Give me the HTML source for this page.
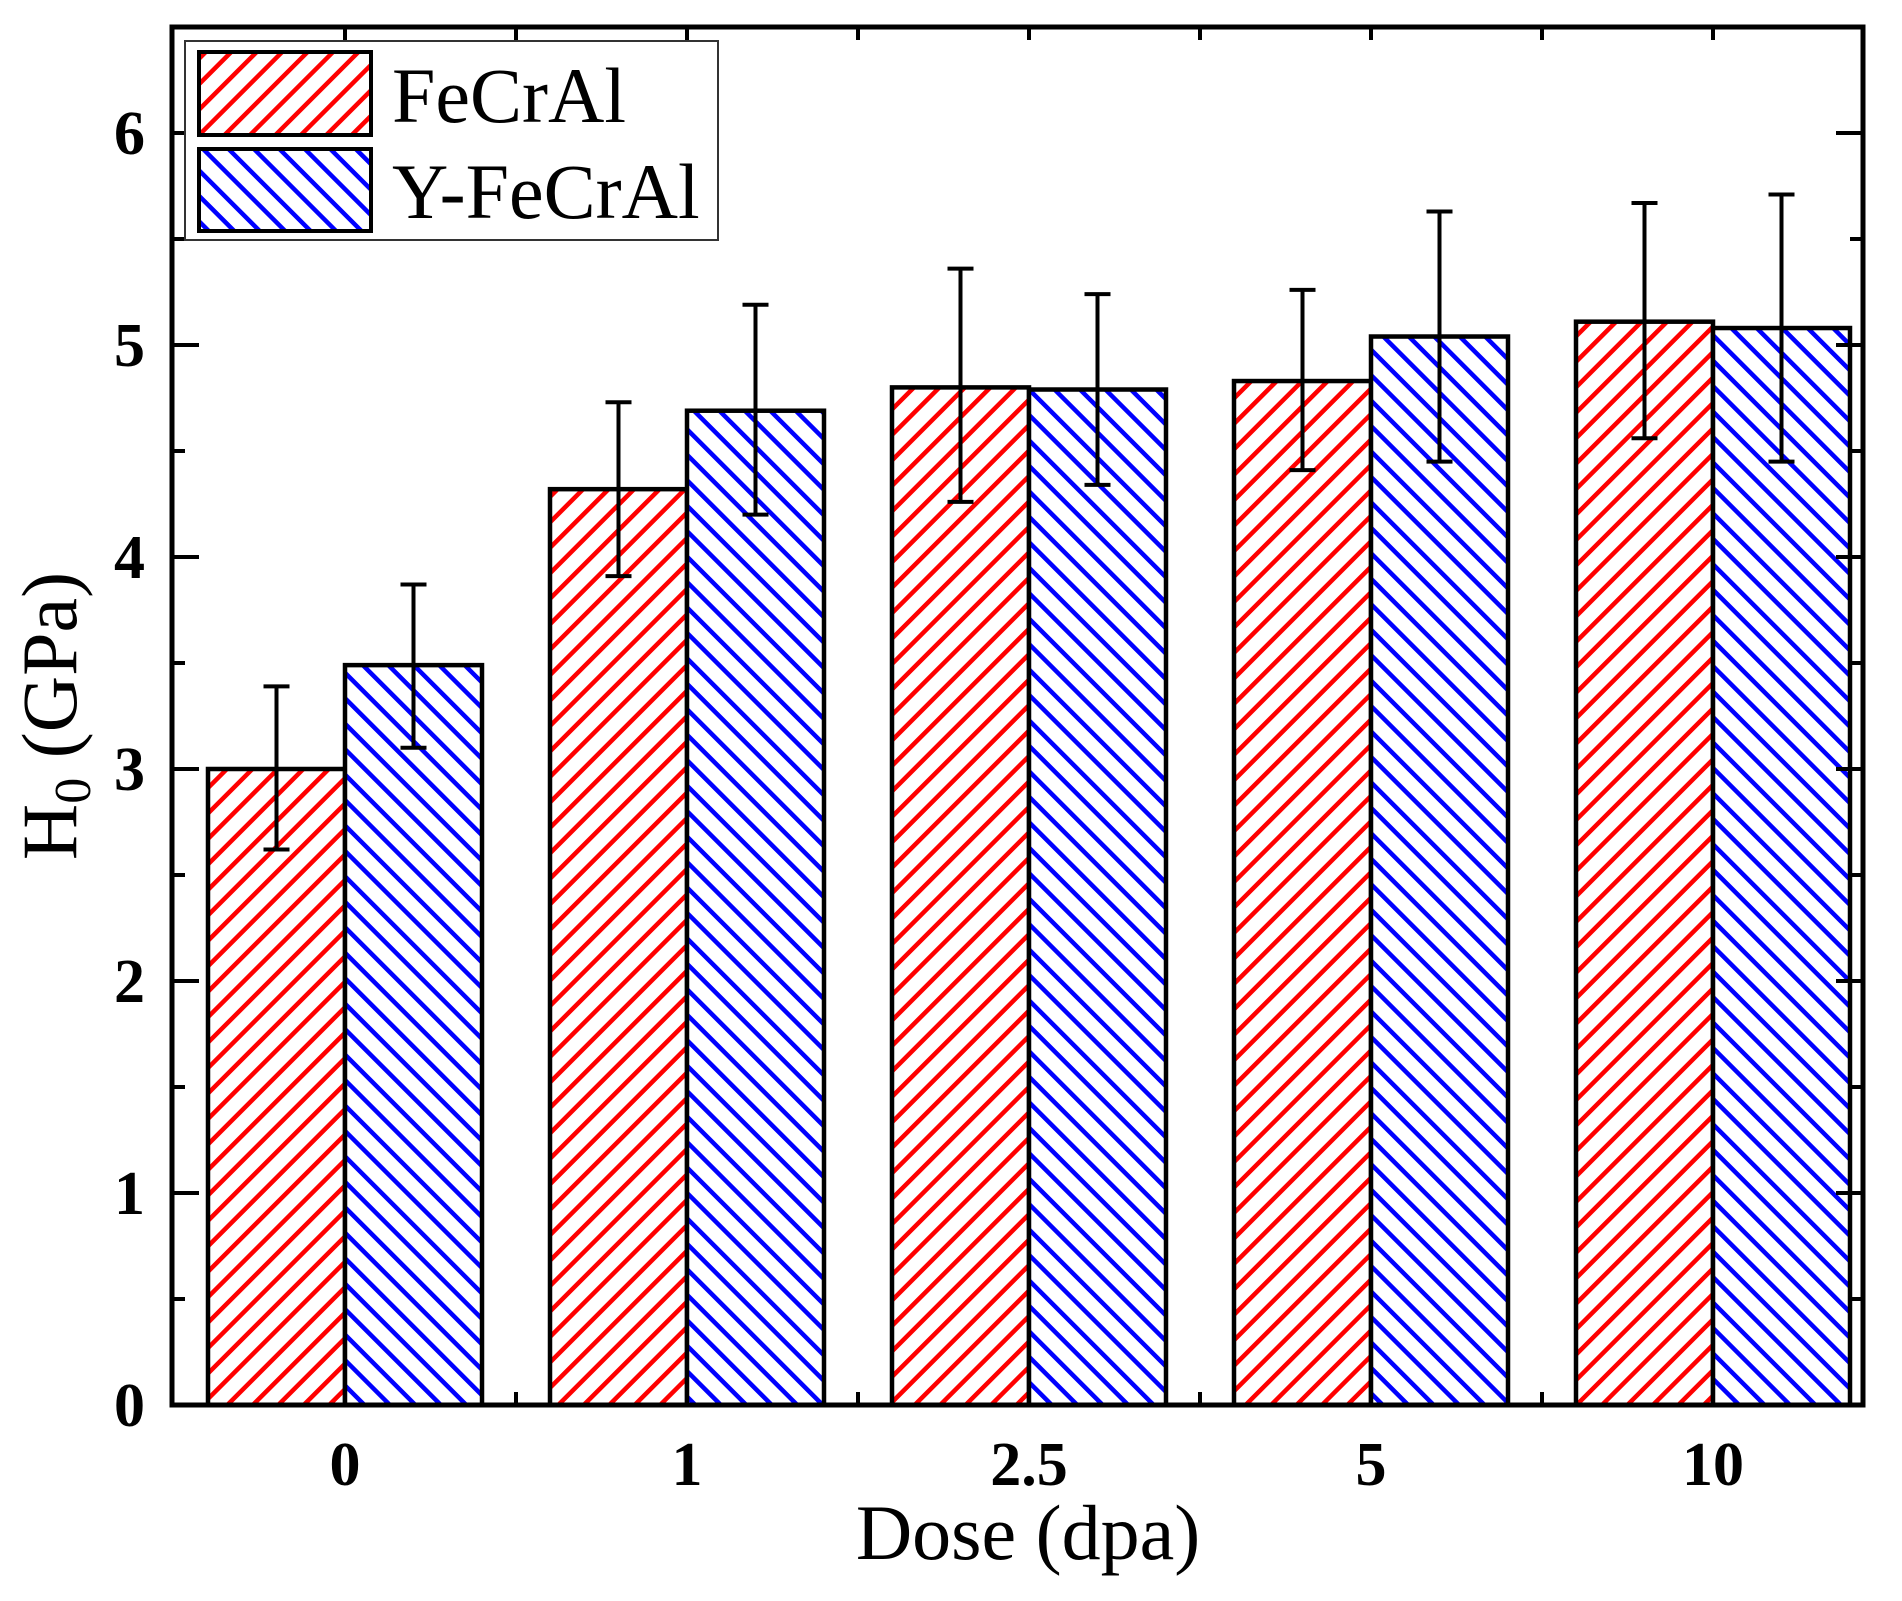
<!DOCTYPE html>
<html><head><meta charset="utf-8"><style>
html,body{margin:0;padding:0;background:#fff;}
svg{display:block;}
text{font-family:"Liberation Serif",serif;}
</style></head><body>
<svg id="chart" width="1902" height="1601" viewBox="0 0 1902 1601" xmlns="http://www.w3.org/2000/svg">
<defs>
<pattern id="hatchRed" patternUnits="userSpaceOnUse" width="18" height="18" patternTransform="rotate(45)">
<rect width="18" height="18" fill="#fff"/><rect x="0" y="0" width="4.5" height="18" fill="#ff0000"/></pattern>
<pattern id="hatchBlue" patternUnits="userSpaceOnUse" width="18" height="18" patternTransform="rotate(-45)">
<rect width="18" height="18" fill="#fff"/><rect x="0" y="0" width="4.5" height="18" fill="#0000ff"/></pattern>
</defs>
<g id="marks"></g>
<g id="axes"></g>
<g>
<rect x="185" y="41" width="533" height="199" fill="#fff" stroke="#333" stroke-width="2"/>
<rect x="199" y="52" width="172" height="83" fill="url(#hatchRed)" stroke="#000" stroke-width="4"/>
<text x="392" y="122" font-size="78">FeCrAl</text>
<rect x="199" y="149" width="172" height="82" fill="url(#hatchBlue)" stroke="#000" stroke-width="4"/>
<text x="392" y="218" font-size="78">Y-FeCrAl</text>
</g>
<text x="1028" y="1559" font-size="78" text-anchor="middle">Dose (dpa)</text>
<text transform="translate(76,716) rotate(-90)" font-size="78" text-anchor="middle">H<tspan font-size="52" dy="14">0</tspan><tspan dy="-14"> (GPa)</tspan></text>
</svg>
<script>
const categories = ["0", "1", "2.5", "5", "10"];
const fecral = [3.0, 4.32, 4.80, 4.83, 5.11];
const fecralErrUp = [0.39, 0.41, 0.56, 0.43, 0.56];
const fecralErrDown = [0.38, 0.41, 0.54, 0.42, 0.55];
const yfecral = [3.49, 4.69, 4.79, 5.04, 5.08];
const yfecralErrUp = [0.38, 0.50, 0.45, 0.59, 0.63];
const yfecralErrDown = [0.39, 0.49, 0.45, 0.59, 0.63];
const yTicks = [0, 1, 2, 3, 4, 5, 6];

const NS = "http://www.w3.org/2000/svg";
const L = 172, R = 1863, B = 1405, yMax = 6.5, unit = 212;
const T = B - yMax * unit;
function y(v){ return B - v * unit; }
function x(i){ return 345 + i * 342; }
const BW = 137;
function mk(tag, attrs, parent){ const e = document.createElementNS(NS, tag); for (const k in attrs) e.setAttribute(k, attrs[k]); parent.appendChild(e); return e; }
const marks = document.getElementById('marks');
const axes = document.getElementById('axes');

function drawSeries(vals, up, down, fill, offset, name){
  vals.forEach((v, i) => {
    const x0 = x(i) + offset;
    const r = mk('rect', {x: x0, y: y(v), width: BW, height: B - y(v), fill: fill, stroke: '#000', 'stroke-width': 4.5}, marks);
    
    
    const cx = x0 + BW / 2;
    const g = mk('g', {stroke: '#000', 'stroke-width': 4}, marks);
    
    
    mk('line', {x1: cx, x2: cx, y1: y(v + up[i]), y2: y(v - down[i])}, g);
    mk('line', {x1: cx - 13, x2: cx + 13, y1: y(v + up[i]), y2: y(v + up[i])}, g);
    mk('line', {x1: cx - 13, x2: cx + 13, y1: y(v - down[i]), y2: y(v - down[i])}, g);
  });
}
drawSeries(fecral, fecralErrUp, fecralErrDown, 'url(#hatchRed)', -BW, 'fecral');
drawSeries(yfecral, yfecralErrUp, yfecralErrDown, 'url(#hatchBlue)', 0, 'y-fecral');

const frame = mk('rect', {x: L, y: T, width: R - L, height: B - T, fill: 'none', stroke: '#000', 'stroke-width': 5}, axes);



for (let v = 0; v <= 6.5; v += 0.5) {
  const major = Math.abs(v - Math.round(v)) < 1e-6;
  const len = major ? 27 : 13;
  mk('line', {x1: L, x2: L + len, y1: y(v), y2: y(v), stroke: '#000', 'stroke-width': 4}, axes);
  mk('line', {x1: R, x2: R - len, y1: y(v), y2: y(v), stroke: '#000', 'stroke-width': 4}, axes);
}
yTicks.forEach(t => {
  const tx = mk('text', {x: 145, y: y(t) + 21, 'font-size': 62, 'font-weight': 'bold', 'text-anchor': 'end'}, axes);
  tx.textContent = String(t);
  
  
});
categories.forEach((c, i) => {
  [x(i), x(i) + 171].forEach(px => {
    if (px < R) {
      mk('line', {x1: px, x2: px, y1: B, y2: B - 13, stroke: '#000', 'stroke-width': 4}, axes);
      mk('line', {x1: px, x2: px, y1: T, y2: T + 13, stroke: '#000', 'stroke-width': 4}, axes);
    }
  });
  const tx = mk('text', {x: x(i), y: 1485, 'font-size': 62, 'font-weight': 'bold', 'text-anchor': 'middle'}, axes);
  tx.textContent = c;
  
  
});
</script>
</body></html>
